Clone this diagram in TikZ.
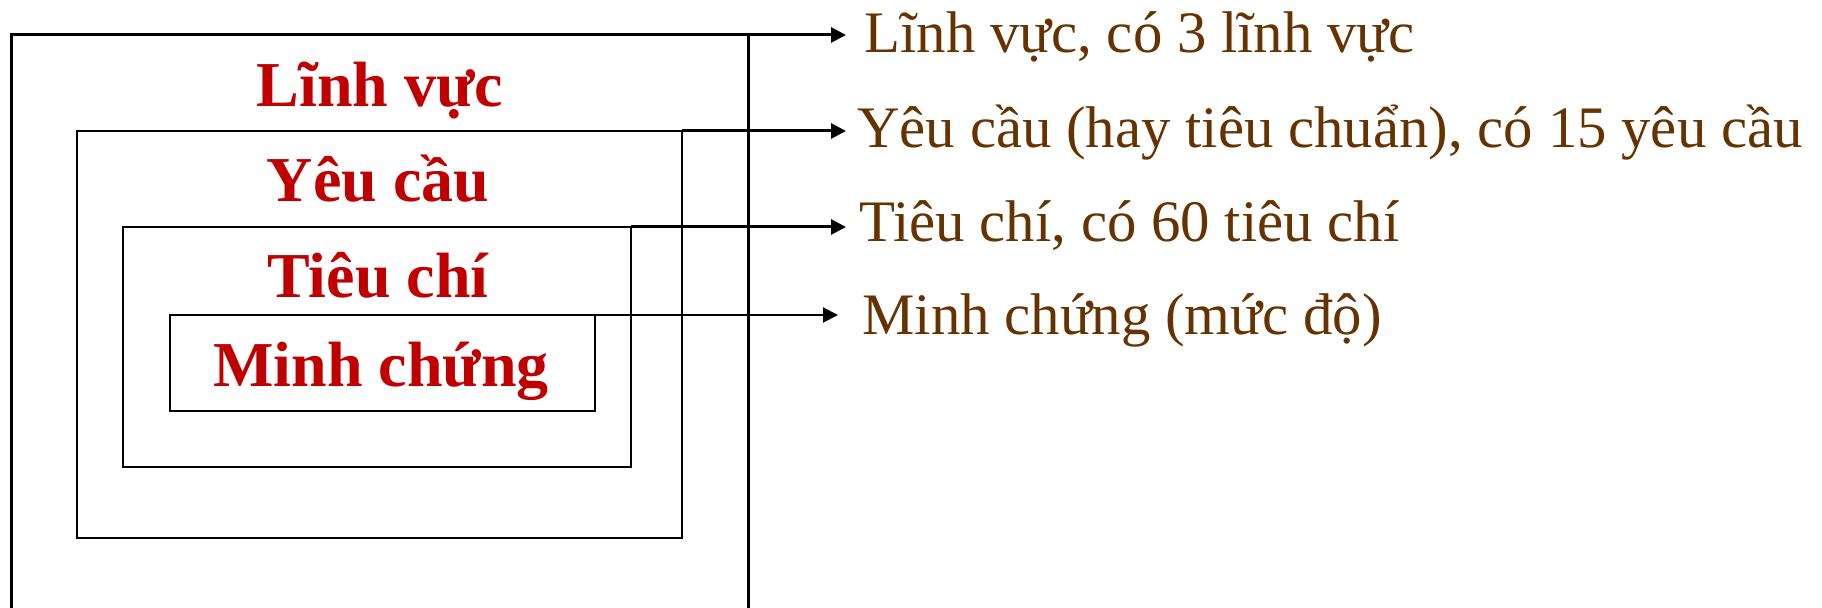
\documentclass[tikz,border=0pt]{standalone}
\usepackage{fontspec}
\setmainfont{Liberation Serif}
\usetikzlibrary{arrows.meta, positioning}
\definecolor{levelred}{HTML}{C00000}
\definecolor{notebrown}{HTML}{663300}
\tikzset{
	levelbox/.style={draw, line width=1pt, inner sep=0pt, outer sep=0pt, anchor=north west},
	levelname/.style={text=levelred, font=\fontsize{32}{36}\selectfont\bfseries, inner sep=0pt, anchor=base},
	levelnote/.style={text=notebrown, font=\fontsize{29.4}{34}\selectfont, inner sep=0pt, anchor=base west},
	pointer/.style={-{Triangle[length=7.5pt, width=7.5pt]}, line width=1.5pt},
}

\begin{document}
\begin{tikzpicture}[x=0.5pt, y=-0.5pt]
			\useasboundingbox (0,0) rectangle (1822,608);
			\clip (0,0) rectangle (1822,608);

			\begin{scope}
				\node[levelbox, line width=1.5pt, minimum width=368.5pt, minimum height=310pt] (lvbox) at (11,35) {};
				\node[levelbox, minimum width=302.5pt, minimum height=203.5pt] (ycbox) at (77,131) {};
				\node[levelbox, minimum width=254pt, minimum height=120pt] (tcbox) at (123,227) {};
				\node[levelbox, minimum width=212.5pt, minimum height=48pt] (mcbox) at (170,315) {};
			\end{scope}

			\begin{scope}
				\node[levelname] (lvname) at (380,107) {Lĩnh vực};
				\node[levelname] (ycname) at (378,202) {Yêu cầu};
				\node[levelname] (tcname) at (378,298) {Tiêu chí};
				\node[levelname] (mcname) at (381,387) {Minh chứng};
			\end{scope}

			\coordinate (lvtip) at (846,35);
			\coordinate (yctip) at (846,131);
			\coordinate (tctip) at (846,227);
			\coordinate (mctip) at (838,315);

			\begin{scope}
				\node[levelnote] (lvnote) at (864,53) {Lĩnh vực, có 3 lĩnh vực};
				\node[levelnote] (ycnote) at (857,148) {Yêu cầu (hay tiêu chuẩn), có 15 yêu cầu};
				\node[levelnote] (tcnote) at (859,242) {Tiêu chí, có 60 tiêu chí};
				\node[levelnote] (mcnote) at (862,335) {Minh chứng (mức độ)};
			\end{scope}

			\begin{scope}[pointer]
				\draw (lvbox.north east) -- (lvtip);
				\draw (ycbox.north east) -- (yctip);
				\draw (tcbox.north east) -- (tctip);
				\draw[line width=1pt] (mcbox.north east) -- (mctip);
			\end{scope}
		\end{tikzpicture}
\end{document}
